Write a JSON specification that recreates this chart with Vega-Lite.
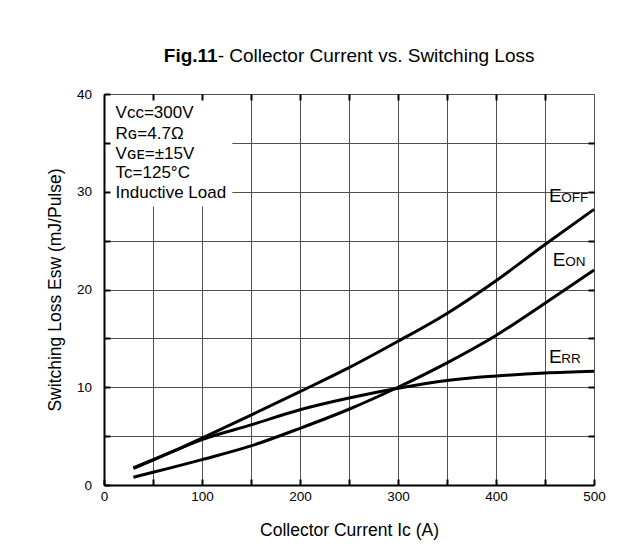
{
  "$schema": "https://vega.github.io/schema/vega-lite/v6.json",
  "width": 490,
  "height": 391,
  "autosize": {"type": "none"},
  "padding": {"left": 104, "top": 94, "right": 47, "bottom": 67},
  "background": "white",
  "config": {
    "font": "Liberation Sans",
    "view": {"stroke": null}
  },
  "datasets": {
    "curves": [
      {"series": "EOFF", "ic": 30, "esw": 1.75},
      {"series": "EOFF", "ic": 50, "esw": 2.6},
      {"series": "EOFF", "ic": 75, "esw": 3.65},
      {"series": "EOFF", "ic": 100, "esw": 4.8},
      {"series": "EOFF", "ic": 150, "esw": 7.15},
      {"series": "EOFF", "ic": 200, "esw": 9.55},
      {"series": "EOFF", "ic": 250, "esw": 12.0},
      {"series": "EOFF", "ic": 300, "esw": 14.7},
      {"series": "EOFF", "ic": 350, "esw": 17.55},
      {"series": "EOFF", "ic": 400, "esw": 20.9},
      {"series": "EOFF", "ic": 450, "esw": 24.6},
      {"series": "EOFF", "ic": 500, "esw": 28.2},
      {"series": "EON", "ic": 30, "esw": 0.8},
      {"series": "EON", "ic": 50, "esw": 1.3},
      {"series": "EON", "ic": 100, "esw": 2.6},
      {"series": "EON", "ic": 150, "esw": 4.0},
      {"series": "EON", "ic": 200, "esw": 5.8},
      {"series": "EON", "ic": 250, "esw": 7.75},
      {"series": "EON", "ic": 300, "esw": 10.0},
      {"series": "EON", "ic": 350, "esw": 12.5},
      {"series": "EON", "ic": 400, "esw": 15.3},
      {"series": "EON", "ic": 450, "esw": 18.6},
      {"series": "EON", "ic": 500, "esw": 22.0},
      {"series": "ERR", "ic": 30, "esw": 1.7},
      {"series": "ERR", "ic": 50, "esw": 2.55},
      {"series": "ERR", "ic": 100, "esw": 4.65},
      {"series": "ERR", "ic": 150, "esw": 6.15},
      {"series": "ERR", "ic": 200, "esw": 7.7},
      {"series": "ERR", "ic": 250, "esw": 8.9},
      {"series": "ERR", "ic": 300, "esw": 9.9},
      {"series": "ERR", "ic": 350, "esw": 10.7},
      {"series": "ERR", "ic": 400, "esw": 11.15},
      {"series": "ERR", "ic": 450, "esw": 11.45},
      {"series": "ERR", "ic": 500, "esw": 11.63}
    ],
    "curveLabels": [
      {"big": "E", "small": "OFF", "x": 454, "y": 28.97},
      {"big": "E", "small": "ON", "x": 458, "y": 22.45},
      {"big": "E", "small": "RR", "x": 454, "y": 12.53}
    ],
    "notes": [
      {"text": "Vcc=300V", "x": 11.8, "y": 38.01},
      {"text": "Rɢ=4.7Ω", "x": 11.8, "y": 35.93},
      {"text": "Vɢᴇ=±15V", "x": 11.8, "y": 33.88},
      {"text": "Tc=125°C", "x": 11.8, "y": 31.89},
      {"text": "Inductive Load", "x": 11.8, "y": 29.91}
    ],
    "box": [{"x0": 0, "x1": 131, "y0": 28.5, "y1": 39.9}],
    "titleRow": [{"x": 116, "y": 43.85, "bold": "Fig.11", "rest": "- Collector Current vs. Switching Loss"}]
  },
  "layer": [
    {
      "data": {"name": "box"},
      "mark": {"type": "rect", "fill": "white"},
      "encoding": {
        "x": {
          "field": "x0", "type": "quantitative",
          "scale": {"domain": [0, 500], "nice": false, "zero": false},
          "axis": {
            "orient": "bottom",
            "values": [0, 50, 100, 150, 200, 250, 300, 350, 400, 450, 500],
            "labelExpr": "datum.value % 100 === 0 ? datum.label : ''",
            "grid": false,
            "domain": true, "domainColor": "black", "domainWidth": 2,
            "ticks": true, "tickSize": -6, "tickWidth": 2, "tickColor": "black",
            "labelFontSize": 13.5, "labelColor": "black", "labelPadding": 10.5,
            "labelFlush": false,
            "title": "Collector Current Ic  (A)",
            "titleFontSize": 17.5, "titleFontWeight": "normal", "titleColor": "black",
            "titlePadding": 18,
            "zindex": 1
          }
        },
        "x2": {"field": "x1"},
        "y": {
          "field": "y0", "type": "quantitative",
          "scale": {"domain": [0, 40], "nice": false, "zero": false},
          "axis": {
            "orient": "left",
            "values": [0, 5, 10, 15, 20, 25, 30, 35, 40],
            "labelExpr": "datum.value % 10 === 0 ? datum.label : ''",
            "grid": false,
            "domain": true, "domainColor": "black", "domainWidth": 2,
            "ticks": true, "tickSize": -6, "tickWidth": 2, "tickColor": "black",
            "labelFontSize": 13.5, "labelColor": "black", "labelPadding": 18.5,
            "labelFlush": false,
            "title": "Switching Loss Esw (mJ/Pulse)",
            "titleFontSize": 17.5, "titleFontWeight": "normal", "titleColor": "black",
            "titlePadding": 12,
            "zindex": 1
          }
        },
        "y2": {"field": "y1"}
      }
    },
    {
      "data": {"name": "curves"},
      "mark": {"type": "line", "color": "black", "strokeWidth": 3, "interpolate": "monotone"},
      "encoding": {
        "x": {
          "field": "ic", "type": "quantitative",
          "axis": {
            "orient": "top",
            "values": [0, 50, 100, 150, 200, 250, 300, 350, 400, 450, 500],
            "grid": true, "gridColor": "#505050", "gridWidth": 1,
            "domain": false, "ticks": false, "labels": false, "title": null,
            "zindex": 0
          }
        },
        "y": {
          "field": "esw", "type": "quantitative",
          "axis": {
            "orient": "right",
            "values": [0, 5, 10, 15, 20, 25, 30, 35, 40],
            "grid": true, "gridColor": "#505050", "gridWidth": 1,
            "domain": false, "ticks": false, "labels": false, "title": null,
            "zindex": 0
          }
        },
        "detail": {"field": "series", "type": "nominal"}
      }
    },
    {
      "data": {"name": "notes"},
      "mark": {"type": "text", "color": "black", "fontSize": 17, "align": "left", "baseline": "middle"},
      "encoding": {
        "x": {"field": "x", "type": "quantitative", "axis": null},
        "y": {"field": "y", "type": "quantitative", "axis": null},
        "text": {"field": "text"}
      }
    },
    {
      "data": {"name": "curveLabels"},
      "mark": {"type": "text", "color": "black", "fontSize": 19, "align": "left", "baseline": "alphabetic"},
      "encoding": {
        "x": {
          "field": "x", "type": "quantitative",
          "axis": {
            "orient": "top",
            "values": [50, 100, 150, 200, 250, 300, 350, 400, 450],
            "grid": false, "domain": false, "labels": false, "title": null,
            "ticks": true, "tickSize": -6, "tickWidth": 2, "tickColor": "black",
            "zindex": 1
          }
        },
        "y": {"field": "y", "type": "quantitative", "axis": null},
        "text": {"field": "big"}
      }
    },
    {
      "data": {"name": "curveLabels"},
      "mark": {"type": "text", "color": "black", "fontSize": 13.5, "align": "left", "baseline": "alphabetic", "dx": 12.3},
      "encoding": {
        "x": {"field": "x", "type": "quantitative", "axis": null},
        "y": {
          "field": "y", "type": "quantitative",
          "axis": {
            "orient": "right",
            "values": [5, 10, 15, 20, 25, 30, 35],
            "grid": false, "domain": false, "labels": false, "title": null,
            "ticks": true, "tickSize": -6, "tickWidth": 2, "tickColor": "black",
            "zindex": 1
          }
        },
        "text": {"field": "small"}
      }
    },
    {
      "data": {"name": "titleRow"},
      "mark": {"type": "text", "color": "black", "fontSize": 19, "fontWeight": "bold", "align": "right", "baseline": "middle"},
      "encoding": {
        "x": {"field": "x", "type": "quantitative", "axis": null},
        "y": {"field": "y", "type": "quantitative", "axis": null},
        "text": {"field": "bold"}
      }
    },
    {
      "data": {"name": "titleRow"},
      "mark": {"type": "text", "color": "black", "fontSize": 19, "align": "left", "baseline": "middle"},
      "encoding": {
        "x": {"field": "x", "type": "quantitative", "axis": null},
        "y": {"field": "y", "type": "quantitative", "axis": null},
        "text": {"field": "rest"}
      }
    }
  ],
  "resolve": {"axis": {"x": "independent", "y": "independent"}}
}
